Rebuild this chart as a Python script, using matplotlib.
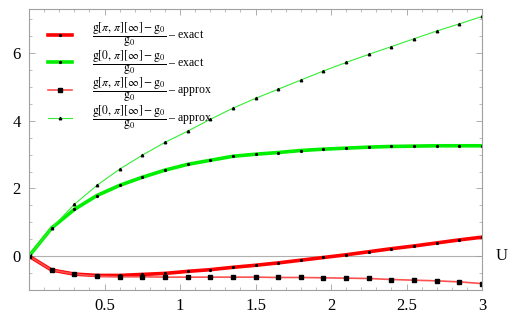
import numpy as np
import matplotlib
matplotlib.use('Agg')
import matplotlib.pyplot as plt
from matplotlib.ticker import MultipleLocator, FixedLocator

plt.rcParams['font.family'] = ['Liberation Serif', 'DejaVu Serif']
plt.rcParams['mathtext.fontset'] = 'stix'

# ── data ──
U = [0.0, 0.15, 0.3, 0.45, 0.6, 0.75, 0.9, 1.05, 1.2, 1.35, 1.5,
     1.65, 1.8, 1.95, 2.1, 2.25, 2.4, 2.55, 2.7, 2.85, 3.0]
red_exact = [0.0, -0.41, -0.53, -0.57, -0.57, -0.54, -0.51, -0.45, -0.40, -0.33, -0.27,
             -0.20, -0.12, -0.04, 0.04, 0.13, 0.22, 0.30, 0.39, 0.48, 0.56]
green_exact = [0.0, 0.83, 1.38, 1.79, 2.09, 2.33, 2.54, 2.71, 2.83, 2.95, 3.01,
               3.06, 3.12, 3.16, 3.19, 3.22, 3.24, 3.25, 3.26, 3.26, 3.26]
red_approx = [0.0, -0.41, -0.53, -0.59, -0.61, -0.61, -0.62, -0.62, -0.62, -0.62, -0.62,
              -0.63, -0.63, -0.64, -0.65, -0.66, -0.69, -0.71, -0.73, -0.76, -0.81]
green_approx = [0.0, 0.83, 1.53, 2.09, 2.57, 2.98, 3.36, 3.69, 4.04, 4.37, 4.66,
                4.93, 5.20, 5.47, 5.72, 5.96, 6.19, 6.42, 6.65, 6.86, 7.08]

lab_pp = r'$\dfrac{\mathrm{g}[\pi,\,\pi][\infty]-\mathrm{g}_0}{\mathrm{g}_0}$'
lab_0p = r'$\dfrac{\mathrm{g}[0,\,\pi][\infty]-\mathrm{g}_0}{\mathrm{g}_0}$'

fig = plt.figure(figsize=(5.21, 3.22), dpi=100)
ax = fig.add_axes([29 / 521, 32 / 322, 453 / 521, 281 / 322])

ax.axhline(0, color='#b0b0b0', lw=0.8, zorder=0)

ax.plot(U, red_exact, '-', color='#ff0000', lw=2.6, marker='o', ms=1.3,
        mfc='black', mec='black', label=lab_pp + ' – exact')
ax.plot(U, green_exact, '-', color='#00ee00', lw=2.6, marker='o', ms=1.3,
        mfc='black', mec='black', label=lab_0p + ' – exact')
ax.plot(U, red_approx, '-', color='#ff5050', lw=1.2, marker='s', ms=2.5,
        mfc='black', mec='black', label=lab_pp + ' – approx')
ax.plot(U, green_approx, '-', color='#33ee33', lw=0.8, marker='^', ms=1.8,
        mfc='black', mec='black', label=lab_0p + ' – approx')

ax.set_xlim(0, 3)
ax.set_ylim(-1, 7.3)
ax.xaxis.set_major_locator(FixedLocator([0.5, 1, 1.5, 2, 2.5, 3]))
ax.xaxis.set_minor_locator(MultipleLocator(0.1))
ax.yaxis.set_major_locator(FixedLocator([0, 2, 4, 6]))
ax.yaxis.set_minor_locator(MultipleLocator(0.5))
ax.xaxis.set_major_formatter(plt.FuncFormatter(lambda v, p: f'{v:g}'))
ax.tick_params(which='both', direction='in', top=True, right=True,
               color='#a0a0a0', labelsize=12, pad=6)
ax.tick_params(which='major', length=4, width=0.6)
ax.tick_params(which='minor', length=2, width=0.5)
for s in ax.spines.values():
    s.set_color('#a0a0a0')
    s.set_linewidth(0.8)

ax.text(1.03, 0, 'U', transform=ax.get_yaxis_transform(), fontsize=12,
        va='center', ha='left')

leg = ax.legend(loc='upper left', bbox_to_anchor=(19 / 453, 0.96), frameon=False,
                fontsize=8.5, handlelength=2.0, labelspacing=-0.08,
                borderaxespad=0, borderpad=0, handletextpad=1.7)

fig.savefig('out.png', dpi=100)
